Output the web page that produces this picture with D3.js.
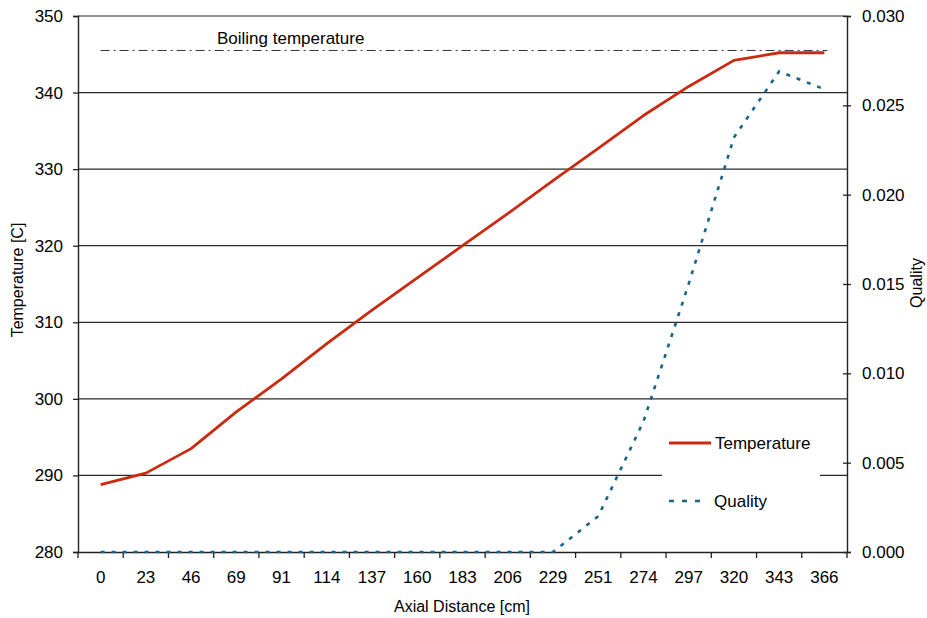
<!DOCTYPE html>
<html>
<head>
<meta charset="utf-8">
<script src="https://cdn.jsdelivr.net/npm/d3@7"></script>
<style>
  html, body { margin: 0; padding: 0; background: #fff; }
  svg { display: block; font-family: Arial, "Liberation Sans", sans-serif; }
</style>
</head>
<body>
<svg id="chart" width="927" height="618"></svg>
<script>
// Axial positions along the channel (cm)
const distances = ["0","23","46","69","91","114","137","160","183","206","229","251","274","297","320","343","366"];
// Coolant temperature (C)
const temperature = [288.8, 290.3, 293.5, 298.3, 302.6, 307.2, 311.6, 315.8, 320.0, 324.2, 328.5, 332.7, 337.0, 340.8, 344.2, 345.2, 345.2];
// Steam quality
const quality = [0, 0, 0, 0, 0, 0, 0, 0, 0, 0, 0, 0.0020, 0.0073, 0.0150, 0.0232, 0.0269, 0.0259];
const boilingTemp = 345.5;
const tempTicks = [280, 290, 300, 310, 320, 330, 340, 350];
const qualityTicks = [0, 0.005, 0.010, 0.015, 0.020, 0.025, 0.030];

const svg = d3.select("#chart");
const plotL = 78, plotR = 847, plotT = 16, plotB = 552;
const FONT = "Arial, 'Liberation Sans', sans-serif";

const x = d3.scaleBand().domain(distances).range([plotL, plotR]).padding(0);
const yT = d3.scaleLinear().domain([280, 350]).range([plotB, plotT]);
const yQ = d3.scaleLinear().domain([0, 0.030]).range([plotB, plotT]);
const cx = d => x(d) + x.bandwidth() / 2;

// Horizontal grid lines at the temperature ticks
svg.append("g")
  .selectAll("line")
  .data(tempTicks.filter(t => t > 280))
  .join("line")
  .attr("x1", plotL).attr("x2", plotR)
  .attr("y1", d => yT(d)).attr("y2", d => yT(d))
  .attr("stroke", "#2a2a2a").attr("stroke-width", 1.2);

// Left temperature axis
const axL = svg.append("g").attr("transform", `translate(${plotL},0)`)
  .call(d3.axisLeft(yT).tickValues(tempTicks).tickSize(5).tickPadding(10).tickFormat(d3.format("d")));
axL.select(".domain").attr("stroke", "#222").attr("stroke-width", 1.4);
axL.selectAll(".tick line").attr("stroke", "#222").attr("stroke-width", 1.3);
axL.selectAll(".tick text").attr("font-size", 17).attr("fill", "#000").attr("font-family", FONT);

// Right quality axis (ticks straddle the axis line)
const axR = svg.append("g").attr("transform", `translate(${plotR},0)`)
  .call(d3.axisRight(yQ).tickValues(qualityTicks).tickSize(4).tickPadding(11).tickFormat(d3.format(".3f")));
axR.select(".domain").attr("stroke", "#222").attr("stroke-width", 1.4);
axR.selectAll(".tick line").attr("x1", -4).attr("stroke", "#222").attr("stroke-width", 1.3);
axR.selectAll(".tick text").attr("font-size", 17).attr("fill", "#000").attr("font-family", FONT);

// Bottom distance axis: ticks at band edges, labels centred in bands
const axB = svg.append("g").attr("transform", `translate(0,${plotB})`)
  .call(d3.axisBottom(x).tickSize(0).tickPadding(19));
axB.select(".domain").attr("stroke", "#222").attr("stroke-width", 1.4);
axB.selectAll(".tick text").attr("font-size", 17).attr("fill", "#000").attr("font-family", FONT);
const edges = d3.range(distances.length + 1).map(i => plotL + i * x.bandwidth());
svg.append("g")
  .selectAll("line")
  .data(edges)
  .join("line")
  .attr("x1", d => d).attr("x2", d => d)
  .attr("y1", plotB).attr("y2", plotB + 6)
  .attr("stroke", "#222").attr("stroke-width", 1.3);

// Boiling temperature reference line
svg.append("line")
  .attr("x1", cx(distances[0])).attr("x2", cx(distances[distances.length - 1]) + 3)
  .attr("y1", yT(boilingTemp)).attr("y2", yT(boilingTemp))
  .attr("stroke", "#333").attr("stroke-width", 1)
  .attr("stroke-dasharray", "9,4,2,4");
svg.append("text").attr("x", 217).attr("y", 44)
  .attr("font-size", 17).attr("fill", "#000").text("Boiling temperature");

// Quality curve
svg.append("path")
  .datum(quality)
  .attr("fill", "none")
  .attr("stroke", "#17668a").attr("stroke-width", 2.6)
  .attr("stroke-dasharray", "4,7")
  .attr("d", d3.line().x((d, i) => cx(distances[i])).y(d => yQ(d)));

// Temperature curve
svg.append("path")
  .datum(temperature)
  .attr("fill", "none")
  .attr("stroke", "#cc2a10").attr("stroke-width", 2.8)
  .attr("stroke-linejoin", "round")
  .attr("d", d3.line().x((d, i) => cx(distances[i])).y(d => yT(d)));

// Legend
const lg = svg.append("g");
lg.append("rect").attr("x", 662).attr("y", 423).attr("width", 158).attr("height", 98).attr("fill", "#fff");
lg.append("line").attr("x1", 669).attr("x2", 711).attr("y1", 443).attr("y2", 443)
  .attr("stroke", "#cc2a10").attr("stroke-width", 2.8);
lg.append("text").attr("x", 715).attr("y", 449).attr("font-size", 17).attr("fill", "#000").text("Temperature");
lg.append("line").attr("x1", 669).attr("x2", 708).attr("y1", 501).attr("y2", 501)
  .attr("stroke", "#17668a").attr("stroke-width", 2.6).attr("stroke-dasharray", "5,8");
lg.append("text").attr("x", 714).attr("y", 507).attr("font-size", 17).attr("fill", "#000").text("Quality");

// Axis titles
svg.append("text").attr("x", 462).attr("y", 612).attr("text-anchor", "middle")
  .attr("font-size", 16).attr("fill", "#000").text("Axial Distance [cm]");
svg.append("text").attr("transform", "translate(23,280) rotate(-90)").attr("text-anchor", "middle")
  .attr("font-size", 16).attr("fill", "#000").text("Temperature [C]");
svg.append("text").attr("transform", "translate(922,283) rotate(-90)").attr("text-anchor", "middle")
  .attr("font-size", 16).attr("fill", "#000").text("Quality");
</script>
</body>
</html>
